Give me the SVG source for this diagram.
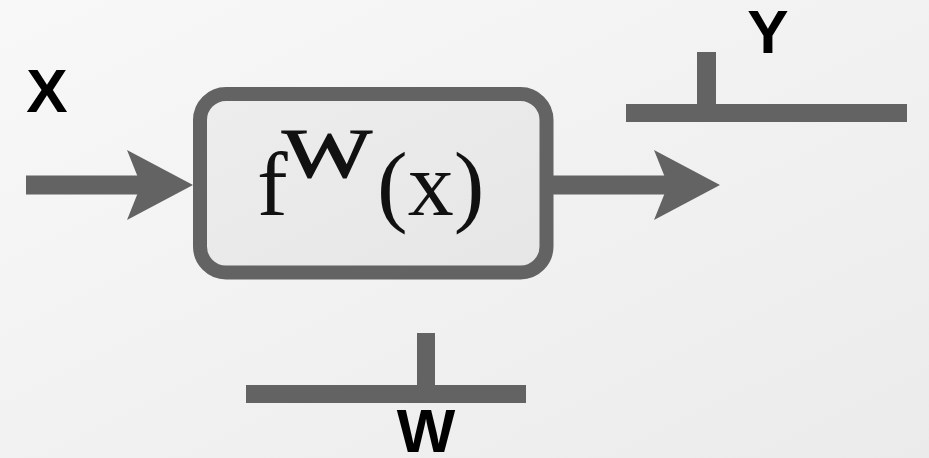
<svg xmlns="http://www.w3.org/2000/svg" width="929" height="458" viewBox="0 0 929 458">
  <defs>
    <linearGradient id="bg" x1="0" y1="0" x2="1" y2="1">
      <stop offset="0" stop-color="#f8f8f8"/>
      <stop offset="1" stop-color="#ebebeb"/>
    </linearGradient>
    <linearGradient id="boxFill" x1="0" y1="0" x2="1" y2="1">
      <stop offset="0" stop-color="#ededed"/>
      <stop offset="1" stop-color="#e6e6e6"/>
    </linearGradient>
    <marker id="head" viewBox="0 -36 68 72" refX="18" refY="0" markerWidth="68" markerHeight="72" markerUnits="userSpaceOnUse" orient="auto">
      <path d="M0,-35 L66,0 L0,35 L14,0 Z" fill="#636363"/>
    </marker>
  </defs>
  <style>
    .wire { stroke: #636363; stroke-width: 19; fill: none; }
    .bar { fill: #636363; }
    .label { font-family: "Liberation Sans", Arial, sans-serif; font-weight: bold; font-size: 62px; fill: #000; text-anchor: middle; }
    .math { font-family: "Liberation Serif", "Times New Roman", serif; fill: #111; }
  </style>

  <rect x="0" y="0" width="929" height="458" fill="url(#bg)"/>

  <!-- connectors: input and output arrows -->
  <g id="connectors">
    <line class="wire" x1="26" y1="185" x2="145" y2="185" marker-end="url(#head)"/>
    <line class="wire" x1="548" y1="185" x2="672" y2="185" marker-end="url(#head)"/>
  </g>

  <!-- input label -->
  <g id="node-x">
    <text class="label" x="47" y="112">X</text>
  </g>

  <!-- function block -->
  <g id="node-f">
    <rect x="200" y="94" width="346.5" height="178.5" rx="26" ry="26" fill="url(#boxFill)" stroke="#636363" stroke-width="14"/>
    <text class="math" x="257" y="215" font-size="92">f</text>
    <text class="math" x="282" y="177" font-size="70" textLength="90" lengthAdjust="spacingAndGlyphs" stroke="#111" stroke-width="1.2">W</text>
    <text class="math" x="377" y="215" font-size="92">(x)</text>
  </g>

  <!-- output terminal Y -->
  <g id="node-y">
    <rect class="bar" x="626" y="104" width="281" height="18"/>
    <rect class="bar" x="697" y="52" width="19" height="53"/>
    <text class="label" x="768" y="53">Y</text>
  </g>

  <!-- weight terminal W -->
  <g id="node-w">
    <rect class="bar" x="246" y="385" width="280" height="18"/>
    <rect class="bar" x="417" y="333" width="18" height="53"/>
    <text class="label" x="426" y="452">W</text>
  </g>
</svg>
